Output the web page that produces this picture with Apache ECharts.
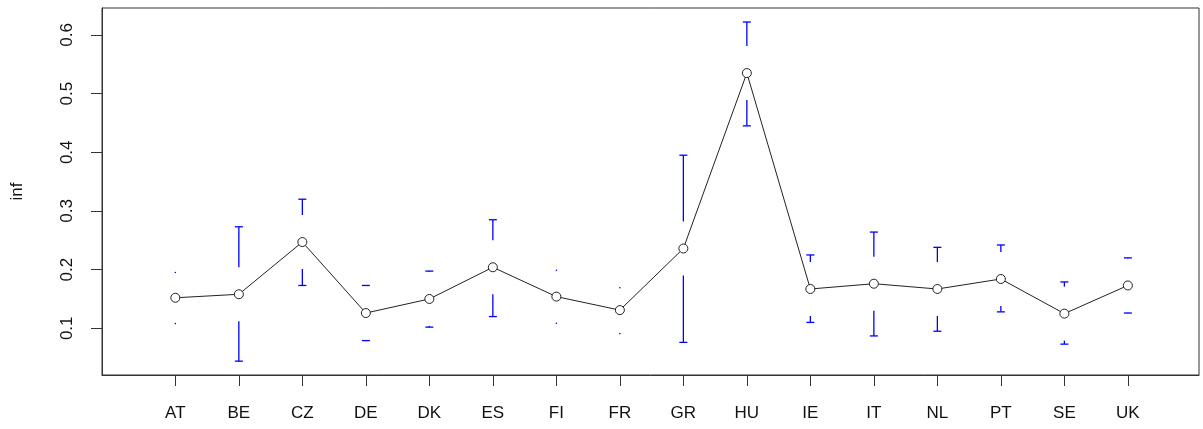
<!DOCTYPE html>
<html>
<head>
<meta charset="utf-8">
<script src="https://cdn.jsdelivr.net/npm/echarts@6/dist/echarts.min.js"></script>
<style>
  html, body { margin: 0; padding: 0; background: #fff; }
  #chart { width: 1203px; height: 429px; }
</style>
</head>
<body>
<div id="chart"></div>
<script>
// Country codes along the x axis
const countries = ['AT', 'BE', 'CZ', 'DE', 'DK', 'ES', 'FI', 'FR', 'GR', 'HU', 'IE', 'IT', 'NL', 'PT', 'SE', 'UK'];
// Group means of inf
const means = [0.152, 0.158, 0.247, 0.126, 0.150, 0.204, 0.154, 0.131, 0.236, 0.535, 0.167, 0.176, 0.167, 0.184, 0.125, 0.173];
// Lower and upper confidence limits
const lower = [0.108, 0.044, 0.173, 0.079, 0.102, 0.120, 0.1085, 0.091, 0.076, 0.445, 0.110, 0.087, 0.095, 0.128, 0.073, 0.126];
const upper = [0.195, 0.273, 0.320, 0.173, 0.1975, 0.285, 0.199, 0.169, 0.395, 0.622, 0.225, 0.264, 0.238, 0.242, 0.179, 0.220];
// Y tick values
const yTicks = [0.1, 0.2, 0.3, 0.4, 0.5, 0.6];

const xTicks = countries.map((c, i) => i + 1);
const GAP = 27;      // pixels left open around each mean
const CAP = 4;       // half width of the bar end caps
const BAR_COLOR = '#0000ff';
const FONT = 'Liberation Sans, Arial, sans-serif';

const chart = echarts.init(document.getElementById('chart'), null, { renderer: 'canvas' });

function renderBar(params, api) {
  const x = api.value(0);
  const m = api.coord([x, api.value(1)]);
  const lo = api.coord([x, api.value(2)]);
  const hi = api.coord([x, api.value(3)]);
  const style = { stroke: BAR_COLOR, lineWidth: 1.3 };
  const dotStyle = { fill: BAR_COLOR };
  const children = [];
  // upper arm: from the upper limit down towards the mean
  if (hi[1] < m[1] - GAP) {
    children.push({ type: 'line', shape: { x1: hi[0], y1: hi[1], x2: hi[0], y2: m[1] - GAP }, style });
    children.push({ type: 'line', shape: { x1: hi[0] - CAP, y1: hi[1], x2: hi[0] + CAP, y2: hi[1] }, style });
  } else {
    children.push({ type: 'circle', shape: { cx: hi[0], cy: hi[1], r: 0.8 }, style: dotStyle });
  }
  // lower arm: from the lower limit up towards the mean
  if (lo[1] > m[1] + GAP) {
    children.push({ type: 'line', shape: { x1: lo[0], y1: lo[1], x2: lo[0], y2: m[1] + GAP }, style });
    children.push({ type: 'line', shape: { x1: lo[0] - CAP, y1: lo[1], x2: lo[0] + CAP, y2: lo[1] }, style });
  } else {
    children.push({ type: 'circle', shape: { cx: lo[0], cy: lo[1], r: 0.8 }, style: dotStyle });
  }
  return { type: 'group', children };
}

const option = {
  animation: false,
  backgroundColor: '#fff',
  grid: {
    left: 102, right: 4, top: 8, bottom: 54,
    show: true, borderColor: '#333', borderWidth: 1, backgroundColor: 'transparent'
  },
  xAxis: {
    type: 'value',
    min: -0.155,
    max: 17.12,
    splitLine: { show: false },
    axisLine: { show: true, onZero: false, lineStyle: { color: '#333', width: 1 } },
    axisTick: { show: true, inside: false, customValues: xTicks, length: 11, lineStyle: { color: '#333' } },
    axisLabel: {
      customValues: xTicks,
      formatter: v => countries[Math.round(v) - 1] || '',
      margin: 30,
      color: '#111',
      fontFamily: FONT,
      fontSize: 17
    }
  },
  yAxis: {
    type: 'value',
    min: 0.0204,
    max: 0.6459,
    name: 'inf',
    nameLocation: 'middle',
    nameGap: 76,
    nameRotate: 90,
    nameTextStyle: { color: '#111', fontFamily: FONT, fontSize: 17 },
    splitLine: { show: false },
    axisLine: { show: true, onZero: false, lineStyle: { color: '#333', width: 1 } },
    axisTick: { show: true, inside: false, customValues: yTicks, length: 11, lineStyle: { color: '#333' } },
    axisLabel: {
      customValues: yTicks,
      rotate: 90,
      margin: 26,
      formatter: v => String(Math.round(v * 10) / 10),
      color: '#111',
      fontFamily: FONT,
      fontSize: 17
    }
  },
  series: [
    {
      type: 'custom',
      renderItem: renderBar,
      data: countries.map((c, i) => [i + 1, means[i], lower[i], upper[i]]),
      z: 2
    },
    {
      type: 'line',
      data: countries.map((c, i) => [i + 1, means[i]]),
      symbol: 'circle',
      symbolSize: 9,
      itemStyle: { color: '#fff', borderColor: '#222', borderWidth: 1 },
      lineStyle: { color: '#222', width: 1 },
      z: 3
    }
  ]
};

chart.setOption(option);
</script>
</body>
</html>
